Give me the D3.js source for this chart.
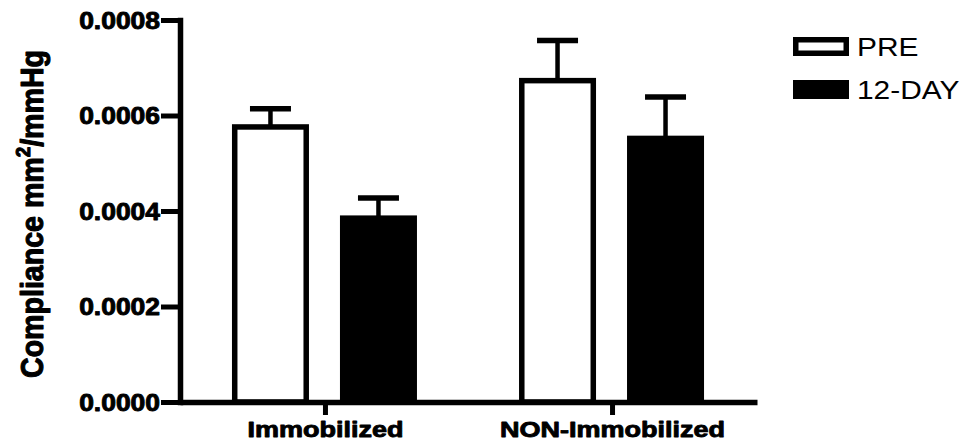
<!DOCTYPE html>
<html>
<head>
<meta charset="utf-8">
<script src="https://cdn.jsdelivr.net/npm/d3@7"></script>
<style>
  html, body { margin: 0; padding: 0; background: #fff; }
  svg { display: block; }
  text { font-family: "Liberation Sans", Arial, Helvetica, sans-serif; fill: #000; }
  .heavy { stroke: #000; stroke-width: 0.9px; stroke-linejoin: round; }
</style>
</head>
<body>
<svg id="chart" width="975" height="448"></svg>
<script>
// Arterial compliance, mean + SEM, before and after 12 days
const categories = ["Immobilized", "NON-Immobilized"];
const seriesNames = ["PRE", "12-DAY"];
const preMean = [0.000576, 0.000673];
const preSem  = [0.000038, 0.000084];
const dayMean = [0.000385, 0.000552];
const daySem  = [0.000042, 0.000087];
const yTickValues = [0, 0.0002, 0.0004, 0.0006, 0.0008];
const yTitle = "Compliance mm";
const yTitleSup = "2";
const yTitleTail = "/mmHg";

const series = [
  { name: seriesNames[0], mean: preMean, sem: preSem, fill: "#fff" },
  { name: seriesNames[1], mean: dayMean, sem: daySem, fill: "#000" }
];

const svg = d3.select("#chart");
const axisLeftX = 180, axisRightX = 757;
const yBottom = 402, yTop = 20;

const y = d3.scaleLinear().domain([0, 0.0008]).range([yBottom, yTop]);
const x = d3.scalePoint().domain(categories).range([axisLeftX, axisRightX]).padding(0.505);
const xInner = d3.scaleBand().domain(seriesNames).range([-93, 92]).paddingInner(0.287);

const strokeW = 5.5;

// bars with upper SEM whiskers
const groups = svg.append("g").selectAll("g")
  .data(categories)
  .join("g")
  .attr("transform", d => `translate(${x(d)},0)`);

groups.each(function(cat, ci) {
  const g = d3.select(this);
  series.forEach(s => {
    const x0 = xInner(s.name);
    const bw = xInner.bandwidth();
    const cx = x0 + bw / 2;
    const top = s.mean[ci] + s.sem[ci];
    g.append("line")
      .attr("x1", cx).attr("x2", cx)
      .attr("y1", y(s.mean[ci])).attr("y2", y(top))
      .attr("stroke", "#000").attr("stroke-width", 4.5);
    g.append("line")
      .attr("x1", cx - 20.5).attr("x2", cx + 20.5)
      .attr("y1", y(top)).attr("y2", y(top))
      .attr("stroke", "#000").attr("stroke-width", 5.5);
    g.append("rect")
      .attr("x", x0 + strokeW / 2)
      .attr("width", bw - strokeW)
      .attr("y", y(s.mean[ci]))
      .attr("height", y(0) - y(s.mean[ci]))
      .attr("fill", s.fill)
      .attr("stroke", "#000")
      .attr("stroke-width", strokeW);
  });
});

// y axis
const yAxis = svg.append("g")
  .attr("transform", `translate(${axisLeftX},0)`)
  .call(d3.axisLeft(y).tickValues(yTickValues).tickFormat(d3.format(".4f")).tickSize(19).tickPadding(1).tickSizeOuter(0));
yAxis.select(".domain").attr("stroke-width", 5.5).attr("stroke-linecap", "square");
yAxis.selectAll(".tick line").attr("stroke-width", 5);
yAxis.selectAll(".tick text")
  .attr("class", "heavy")
  .attr("font-size", 23)
  .attr("font-weight", "bold")
  .attr("x", -20 / 1.15)
  .attr("dy", "0.36em")
  .attr("transform", "scale(1.15,1)");

// x axis
const xAxis = svg.append("g")
  .attr("transform", `translate(0,${yBottom})`)
  .call(d3.axisBottom(x).tickSize(13).tickPadding(6).tickSizeOuter(0));
xAxis.select(".domain").attr("stroke-width", 5.5);
xAxis.selectAll(".tick line").attr("stroke-width", 5);
xAxis.selectAll(".tick text")
  .attr("class", "heavy")
  .attr("font-size", 22.5)
  .attr("font-weight", "bold")
  .attr("y", 19)
  .attr("dy", "0.71em")
  .attr("transform", "scale(1.2,1)");

// y axis title
const title = svg.append("text")
  .attr("class", "heavy")
  .attr("text-anchor", "middle")
  .attr("font-size", 26)
  .attr("font-weight", "bold")
  .attr("transform", "translate(43,214) scale(1.2,1.1) rotate(-90)");
title.append("tspan").text(yTitle);
title.append("tspan").attr("font-size", 17).attr("dy", -11).text(yTitleSup);
title.append("tspan").attr("dy", 11).text(yTitleTail);

// legend
const legend = svg.append("g").selectAll("g")
  .data(series)
  .join("g")
  .attr("transform", (d, i) => `translate(0,${i * 43})`);
legend.append("rect")
  .attr("x", 793 + 2.75).attr("y", 37 + 2.75)
  .attr("width", 56 - 5.5).attr("height", 19 - 5.5)
  .attr("fill", d => d.fill)
  .attr("stroke", "#000").attr("stroke-width", 5.5);
legend.append("text")
  .attr("font-size", 26)
  .attr("transform", "translate(857,56) scale(1.15,1)")
  .text(d => d.name);
</script>
</body>
</html>
